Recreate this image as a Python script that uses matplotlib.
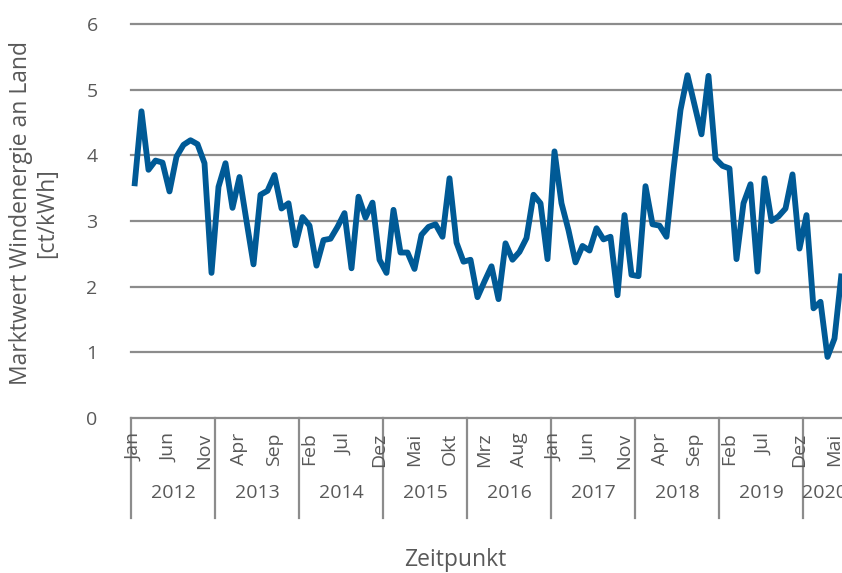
import matplotlib
matplotlib.use("Agg")
import matplotlib.pyplot as plt

plt.rcParams['font.family'] = ['Open Sans', 'DejaVu Sans']

# Marktwert Windenergie an Land, monatlich Jan 2012 - Jun 2020 [ct/kWh]
werte = [
    3.53, 4.67, 3.78, 3.92, 3.89, 3.45, 3.98, 4.16, 4.23, 4.17, 3.88, 2.21,  # 2012
    3.52, 3.88, 3.20, 3.67, 3.00, 2.34, 3.40, 3.46, 3.70, 3.19, 3.27, 2.63,  # 2013
    3.06, 2.93, 2.32, 2.71, 2.73, 2.91, 3.12, 2.28, 3.37, 3.05, 3.28, 2.41,  # 2014
    2.21, 3.17, 2.52, 2.52, 2.27, 2.79, 2.91, 2.95, 2.76, 3.65, 2.67, 2.38,  # 2015
    2.41, 1.84, 2.08, 2.31, 1.81, 2.66, 2.41, 2.53, 2.74, 3.40, 3.27, 2.42,  # 2016
    4.06, 3.27, 2.86, 2.37, 2.62, 2.55, 2.89, 2.72, 2.76, 1.87, 3.09, 2.18,  # 2017
    2.16, 3.53, 2.95, 2.93, 2.76, 3.78, 4.69, 5.22, 4.77, 4.32, 5.21, 3.95,  # 2018
    3.84, 3.80, 2.42, 3.27, 3.56, 2.23, 3.65, 3.00, 3.07, 3.19, 3.71, 2.58,  # 2019
    3.09, 1.67, 1.77, 0.93, 1.21, 2.20,                                      # 2020
]
monate = ["Jan", "Feb", "Mrz", "Apr", "Mai", "Jun",
          "Jul", "Aug", "Sep", "Okt", "Nov", "Dez"]
jahre = ["2012", "2013", "2014", "2015", "2016", "2017", "2018", "2019", "2020"]
y_ticks = [0, 1, 2, 3, 4, 5, 6]

grau = "#595959"
linie = "#8c8c8c"

W, H = 842, 573
fig = plt.figure(figsize=(W / 100, H / 100), dpi=100)
left, right, top, bottom = 131, 845, 24, 418
ax = fig.add_axes([left / W, 1 - bottom / H, (right - left) / W, (bottom - top) / H])

n = len(werte)
x = list(range(n))
ax.plot(x, werte, color="#005a96", lw=4.2, solid_joinstyle="round",
        solid_capstyle="butt", zorder=3)

ax.set_xlim(-0.5, n - 0.5)
ax.set_ylim(0, 6)
for v in y_ticks:
    ax.axhline(v, color=linie, lw=1.6, zorder=1, clip_on=False)
for s in ax.spines.values():
    s.set_visible(False)
ax.set_xticks([])
ax.set_yticks(y_ticks)
ax.tick_params(axis="y", length=0, pad=24, labelsize=14, labelcolor=grau)

# Monatsbeschriftung (jeder 5. Monat)
trans = ax.get_xaxis_transform()
for i in range(0, n, 5):
    ax.text(i, -0.037, monate[i % 12], rotation=90, ha="center", va="top",
            fontsize=14, color=grau, transform=trans, clip_on=False)

# Jahresgruppen mit Trennlinien
for k, jahr in enumerate(jahre):
    start = k * 12
    ende = min(start + 12, n)
    ax.plot([start - 0.5, start - 0.5], [0, -0.254], color=linie, lw=1.6,
            transform=trans, clip_on=False)
    ax.text((start + ende - 1) / 2, -0.19, jahr, ha="center", va="center",
            fontsize=14, color=grau, transform=trans, clip_on=False)

fig.text(34 / W, 1 - 213 / H, "Marktwert Windenergie an Land\n[ct/kWh]",
         rotation=90, ha="center", va="center", fontsize=16.5, color=grau,
         linespacing=1.15)
fig.text(455 / W, 1 - 560 / H, "Zeitpunkt", ha="center", va="center",
         fontsize=16.5, color=grau)

fig.savefig("out.png", dpi=100)
